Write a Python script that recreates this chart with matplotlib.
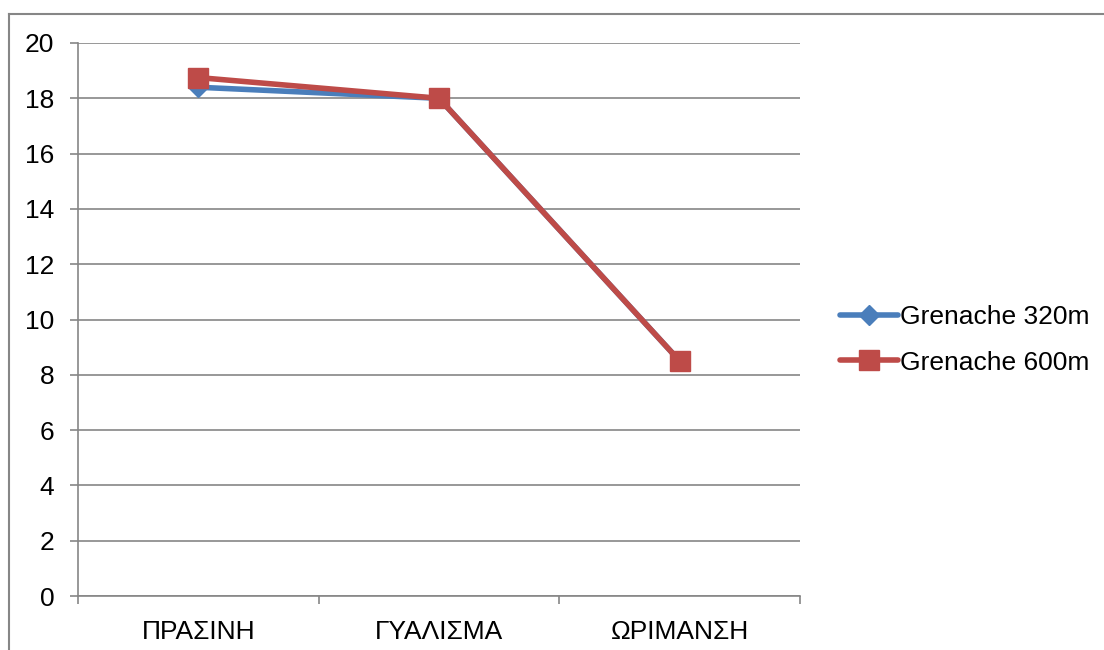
import matplotlib.pyplot as plt
from matplotlib.lines import Line2D

categories = ["ΠΡΑΣΙΝΗ", "ΓΥΑΛΙΣΜΑ", "ΩΡΙΜΑΝΣΗ"]
grenache_320 = [18.4, 18.0, 8.5]
grenache_600 = [18.75, 18.0, 8.5]

plt.rcParams['font.family'] = ['Liberation Sans', 'DejaVu Sans']

fig = plt.figure(figsize=(11.04, 6.5), dpi=100)
ax = fig.add_axes([78 / 1104, 1 - 596 / 650, 722 / 1104, 553 / 650])

# outer chart frame (only top and left visible)
fig.add_artist(Line2D([8.5 / 1104, 8.5 / 1104], [0, 1 - 13.5 / 650], color='#868686', lw=1.5))
fig.add_artist(Line2D([8.5 / 1104, 1], [1 - 13.5 / 650, 1 - 13.5 / 650], color='#868686', lw=1.5))

x = range(len(categories))
ax.plot(x, grenache_320, color='#4A7EBB', lw=4, marker='D', markersize=10,
        label='Grenache 320m', solid_capstyle='round')
ax.plot(x, grenache_600, color='#BE4B48', lw=4, marker='s', markersize=14,
        label='Grenache 600m', solid_capstyle='round')

ax.set_xlim(-0.5, 2.5)
ax.set_ylim(0, 20)
ax.set_yticks(range(0, 21, 2))
ax.set_xticks(list(x))
ax.set_xticklabels(categories)
ax.set_xticks([-0.5, 0.5, 1.5, 2.5], minor=True)
ax.tick_params(axis='x', which='major', length=0, pad=17, labelsize=19)
ax.tick_params(axis='x', which='minor', length=6, color='#868686', width=1.2, direction='out')
ax.tick_params(axis='y', length=6, color='#868686', width=1.2, labelsize=19, pad=11)
ax.grid(axis='y', color='#868686', lw=1.2)
ax.set_axisbelow(True)
for s in ['top', 'right']:
    ax.spines[s].set_visible(False)
for s in ['left', 'bottom']:
    ax.spines[s].set_color('#868686')
    ax.spines[s].set_linewidth(1.2)

ax.legend(loc='center left', bbox_to_anchor=(1.022, 0.463), frameon=False, fontsize=19,
          handlelength=2.2, handletextpad=0.1, labelspacing=0.8, borderpad=0.4)

fig.savefig('out.png', dpi=100)
